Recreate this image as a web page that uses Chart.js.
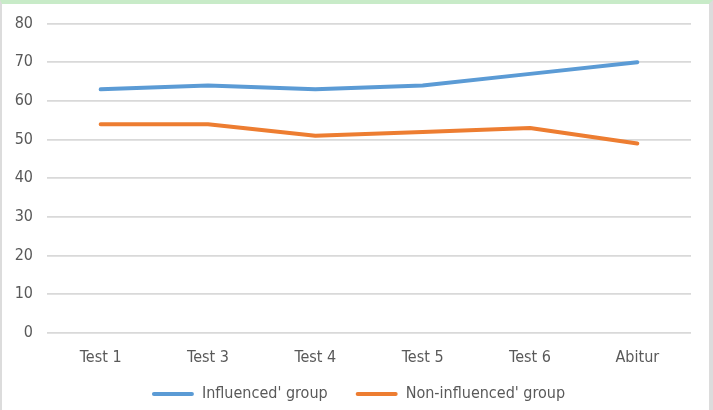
<!DOCTYPE html>
<html>
<head>
<meta charset="utf-8">
<script src="https://cdn.jsdelivr.net/npm/chart.js@4"></script>
<style>
  html, body { margin: 0; padding: 0; background: #fff; }
  #wrap { position: relative; width: 713px; height: 410px; overflow: hidden; }
  #frame { position: absolute; left: 0; top: 0; width: 713px; height: 410px; box-sizing: border-box;
           border-top: 4px solid #c8ebc8; border-left: 2px solid #dcdcdc; border-right: 4px solid #dcdcdc; pointer-events: none; }
  canvas { position: absolute; left: 0; top: 0; }
</style>
</head>
<body>
<div id="wrap">
  <canvas id="c" width="713" height="410"></canvas>
  <div id="frame"></div>
</div>
<script>
const categories = ["Test 1", "Test 3", "Test 4", "Test 5", "Test 6", "Abitur"];
const influenced = [63, 64, 63, 64, 67, 70];
const nonInfluenced = [54, 54, 51, 52, 53, 49];
const seriesNames = ["Influenced' group", "Non-influenced' group"];
const yTicks = [0, 10, 20, 30, 40, 50, 60, 70, 80];

const FONT = "'Liberation Sans Narrow', 'DejaVu Sans Condensed', 'Open Sans', sans-serif";
const TEXT = '#595959';

const legendShift = {
  id: 'legendShift',
  afterLayout(chart) {
    const lg = chart.legend;
    if (lg) { lg.top -= 16; lg.bottom -= 16; lg.left += 13; lg.right += 13; }
  }
};

new Chart(document.getElementById('c'), {
  type: 'line',
  data: {
    labels: categories,
    datasets: [
      { label: seriesNames[0], data: influenced, borderColor: '#5B9BD5', backgroundColor: '#5B9BD5',
        borderWidth: 4, pointRadius: 0, tension: 0, borderCapStyle: 'round', borderJoinStyle: 'round' },
      { label: seriesNames[1], data: nonInfluenced, borderColor: '#ED7D31', backgroundColor: '#ED7D31',
        borderWidth: 4, pointRadius: 0, tension: 0, borderCapStyle: 'round', borderJoinStyle: 'round' }
    ]
  },
  plugins: [legendShift],
  options: {
    responsive: false,
    animation: false,
    layout: { padding: { left: 0, right: 22, top: 18, bottom: -18 } },
    scales: {
      x: {
        offset: true,
        grid: { display: false },
        border: { display: false },
        ticks: { color: TEXT, font: { family: FONT, size: 16 }, padding: 7, maxRotation: 0 },
        afterFit: (s) => { s.height = 41; }
      },
      y: {
        min: 0, max: 80,
        afterBuildTicks: (s) => { s.ticks = yTicks.map(v => ({ value: v })); },
        grid: { color: '#d9d9d9', lineWidth: 1.8, drawTicks: false },
        border: { display: false },
        ticks: { color: TEXT, font: { family: FONT, size: 16 }, padding: 14 },
        afterFit: (s) => { s.width = 47; }
      }
    },
    plugins: {
      tooltip: { enabled: false },
      legend: {
        position: 'bottom',
        labels: {
          color: TEXT,
          font: { family: FONT, size: 16 },
          boxWidth: 42, boxHeight: 4, padding: 28,
          generateLabels: (chart) => chart.data.datasets.map((d, i) => ({
            text: d.label, fillStyle: d.borderColor, strokeStyle: d.borderColor, lineWidth: 0,
            fontColor: TEXT, datasetIndex: i, hidden: false, borderRadius: 2
          }))
        }
      }
    }
  }
});
</script>
</body>
</html>
